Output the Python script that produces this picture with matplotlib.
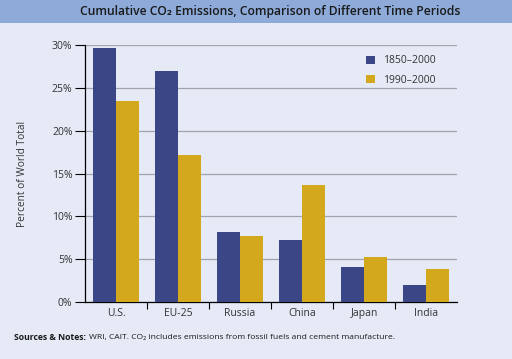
import numpy as np
import matplotlib
matplotlib.use('Agg')
import matplotlib.pyplot as plt
from matplotlib.patches import Rectangle
from matplotlib.ticker import FixedLocator

plt.rcParams['font.family'] = ['Open Sans', 'DejaVu Sans']

regions = ['U.S.', 'EU-25', 'Russia', 'China', 'Japan', 'India']
share_1850_2000 = [29.6, 27.0, 8.2, 7.2, 4.1, 2.0]
share_1990_2000 = [23.5, 17.2, 7.7, 13.7, 5.2, 3.8]
series_labels = ['1850\u20132000', '1990\u20132000']
yticks = [0, 5, 10, 15, 20, 25, 30]

bg = '#E5EAF6'
bar_blue = '#3B4687'
bar_gold = '#D4A81C'
text_col = '#333333'

fig = plt.figure(figsize=(5.12, 3.59), dpi=100)
fig.patch.set_facecolor(bg)

# title band
fig.patches.append(Rectangle((0, 1 - 22.5 / 359), 1, 22.5 / 359, transform=fig.transFigure,
                             facecolor='#8DAAD9', edgecolor='none', zorder=0))
fig.text(0.528, 1 - 11.5 / 359, 'Cumulative CO\u2082 Emissions, Comparison of Different Time Periods',
         ha='center', va='center', fontsize=8.7, fontweight='semibold', color='#1a1a1a')

ax = fig.add_axes([85 / 512, 57 / 359, 372 / 512, 257 / 359])
ax.set_facecolor(bg)

x = np.arange(len(regions))
w = 0.375
ax.bar(x - w / 2, share_1850_2000, w, color=bar_blue, label=series_labels[0], zorder=3)
ax.bar(x + w / 2, share_1990_2000, w, color=bar_gold, label=series_labels[1], zorder=3)

ax.set_xlim(-0.5, len(regions) - 0.5)
ax.set_ylim(0, 30)
ax.set_yticks(yticks)
ax.set_yticklabels([f'{t}%' for t in yticks])
ax.yaxis.grid(True, color='#A0A4AE', linewidth=0.9, zorder=0)

ax.set_xticks(x)
ax.set_xticklabels(regions)
ax.tick_params(axis='x', length=0, pad=4, labelsize=7.5, labelcolor=text_col)
ax.xaxis.set_minor_locator(FixedLocator(np.arange(0.5, len(regions) - 1, 1.0)))
ax.tick_params(axis='x', which='minor', length=5, width=0.8, direction='out')
ax.tick_params(axis='y', length=7, width=0.8, labelsize=7.5, labelcolor=text_col, pad=2)

for side in ['top', 'right']:
    ax.spines[side].set_visible(False)
ax.spines['left'].set_linewidth(0.9)
ax.spines['bottom'].set_linewidth(0.9)

ax.set_ylabel('Percent of World Total', fontsize=7.3, color=text_col, labelpad=17)

ax.legend(loc='upper left', bbox_to_anchor=(357 / 512, 1 - 46 / 359), bbox_transform=fig.transFigure,
          frameon=False, fontsize=7.5, handlelength=0.8, handleheight=0.8, handletextpad=0.8,
          labelspacing=0.8, labelcolor=text_col)

# footer note
fig.canvas.draw()
r = fig.canvas.get_renderer()
t1 = fig.text(14 / 512, 1 - 337 / 359, 'Sources & Notes:', fontsize=6.2, fontweight='bold',
              color='#1a1a1a', va='center')
bb = t1.get_window_extent(renderer=r)
fig.text((bb.x1 + 3) / 512, 1 - 337 / 359,
         'WRI, CAIT. CO\u2082 includes emissions from fossil fuels and cement manufacture.',
         fontsize=6.1, color='#1a1a1a', va='center')

fig.savefig('out.png', dpi=100, facecolor=bg)
